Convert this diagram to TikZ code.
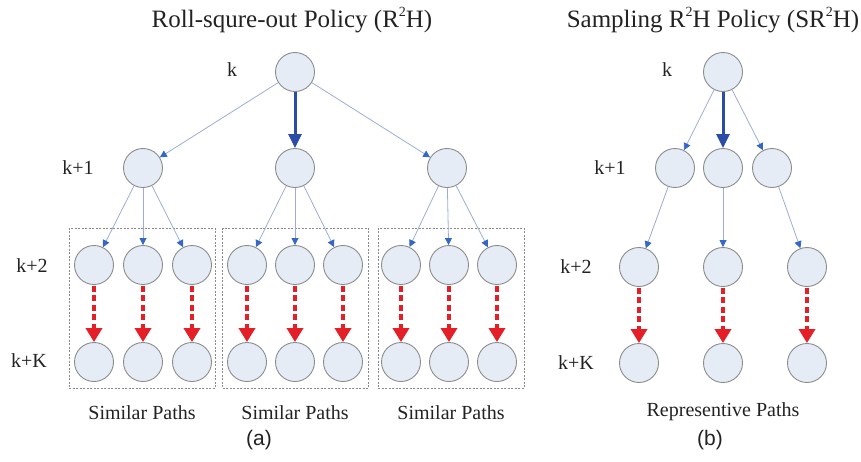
\documentclass[tikz,border=0pt]{standalone}
\usepackage{fontspec}
\setmainfont{Liberation Serif}
\newfontfamily\capfont{Liberation Sans}
\usetikzlibrary{arrows.meta}
\definecolor{nodefill}{HTML}{E6ECF5}
\definecolor{nodeline}{HTML}{8C8C8C}
\definecolor{thinblue}{HTML}{9DACD8}
\definecolor{tipblue}{HTML}{3568C6}
\definecolor{darkblue}{HTML}{2C4DA5}
\definecolor{pathred}{HTML}{E51F27}
\definecolor{boxgrey}{HTML}{8A8A8A}
\definecolor{ink}{HTML}{222222}
% small raised "2" used in the policy names
\newcommand{\sqr}{\raisebox{0.42em}{\fontsize{14}{14}\selectfont 2}}
\tikzset{
  state/.style={circle, draw=nodeline, line width=0.9pt, fill=nodefill, minimum size=39pt, inner sep=0pt},
  branch/.style={draw=thinblue, line width=0.8pt, -{Triangle[length=7pt,width=7pt,fill=tipblue,color=tipblue]}},
  chosen/.style={draw=darkblue, line width=3pt, -{Triangle[length=14pt,width=13pt]}},
  rollout/.style={draw=pathred, line width=3.6pt, dash pattern=on 6pt off 3.5pt, -{Triangle[length=14pt,width=16pt]}, shorten <=1pt},
  group/.style={draw=boxgrey, line width=0.7pt, dash pattern=on 2pt off 1.5pt},
  lvl/.style={text=ink, font=\fontsize{20}{22}\selectfont},
  pathlabel/.style={text=ink, font=\fontsize{20}{22}\selectfont},
  ttl/.style={text=ink, font=\fontsize{25}{28}\selectfont},
  sub/.style={text=ink, font=\capfont\fontsize{21}{24}\selectfont}
}
\begin{document}
\begin{tikzpicture}[x=1pt,y=-1pt]
\useasboundingbox (0,0) rectangle (861,461);

% ---------- (a) Roll-squre-out policy ----------
\node[ttl] (ta) at (292,20) {Roll-squre-out Policy (R\sqr H)};

% dashed group frames
\node[group, minimum width=146pt, minimum height=160pt] (ga) at (142,308) {};
\node[group, minimum width=146pt, minimum height=160pt] (gb) at (295.5,308) {};
\node[group, minimum width=146pt, minimum height=160pt] (gc) at (451,308) {};

\node[state] (r) at (295,72) {};
\node[state] (a1) at (143,168) {};
\node[state] (a2) at (295,168) {};
\node[state] (a3) at (447,168) {};

\foreach \n/\x in {b1/94,b2/143,b3/192,b4/247,b5/295,b6/343,b7/401,b8/449,b9/497}{
  \node[state] (\n) at (\x,265) {};
  \node[state] (\n K) at (\x,362) {};
}

\node[lvl] (la0) at (232,70) {k};
\node[lvl] (la1) at (78,168) {k+1};
\node[lvl] (la2) at (32,266) {k+2};
\node[lvl] (laK) at (29,361) {k+K};

\draw[branch] (r) -- (a1);
\draw[branch] (r) -- (a3);
\draw[chosen] (r) -- (a2);

\foreach \p/\c in {a1/b1,a1/b2,a1/b3,a2/b4,a2/b5,a2/b6,a3/b7,a3/b8,a3/b9}{
  \draw[branch] (\p) -- (\c);
}
\foreach \n in {b1,b2,b3,b4,b5,b6,b7,b8,b9}{
  \draw[rollout] (\n) -- (\n K);
}

\node[pathlabel] (sa) at (142,413) {Similar Paths};
\node[pathlabel] (sb) at (295,413) {Similar Paths};
\node[pathlabel] (sc) at (451,413) {Similar Paths};
\node[sub] (ca) at (259,440) {(a)};

% ---------- (b) Sampling R2H policy ----------
\node[ttl] (tb) at (713,20) {Sampling R\sqr H Policy (SR\sqr H)};

\node[state] (q) at (723,72) {};
\node[state] (c1) at (675,168) {};
\node[state] (c2) at (723,168) {};
\node[state] (c3) at (772,168) {};

\node[state] (d1) at (639,267) {};
\node[state] (d2) at (723,267) {};
\node[state] (d3) at (807,267) {};
\node[state] (e1) at (639,363) {};
\node[state] (e2) at (723,363) {};
\node[state] (e3) at (807,363) {};

\node[lvl] (lb0) at (667,70) {k};
\node[lvl] (lb1) at (610,168) {k+1};
\node[lvl] (lb2) at (576,267) {k+2};
\node[lvl] (lbK) at (576,363) {k+K};

\draw[branch] (q) -- (c1);
\draw[branch] (q) -- (c3);
\draw[chosen] (q) -- (c2);
\draw[branch] (c1) -- (d1);
\draw[branch] (c2) -- (d2);
\draw[branch] (c3) -- (d3);
\draw[rollout] (d1) -- (e1);
\draw[rollout] (d2) -- (e2);
\draw[rollout] (d3) -- (e3);

\node[pathlabel] (rp) at (723,412) {Representive Paths};
\node[sub] (cb) at (710,440) {(b)};
\end{tikzpicture}
\end{document}
